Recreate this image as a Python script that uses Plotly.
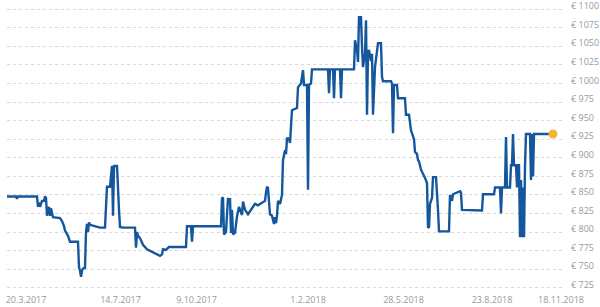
import plotly.graph_objects as go

# Sample index along the chart (data points are irregularly spaced in time)
sample_idx = [
    0, 9, 10, 11, 30, 31, 32, 33, 35, 37, 38, 39, 40, 41, 42, 43, 44, 45, 46, 53,
    55, 57, 58, 61, 63, 71, 72, 73, 74, 75, 76, 78, 79, 80, 81, 82, 83, 85, 89, 93,
    98, 99, 100, 103, 104, 105, 106, 107, 110, 111, 112, 113, 116, 128, 129, 130, 131, 133, 136, 140,
    143, 148, 153, 155, 156, 159, 162, 179, 180, 184, 185, 186, 214, 215, 216, 217, 219, 221, 222, 223,
    224, 225, 226, 228, 230, 232, 234, 235, 236, 238, 241, 245, 248, 251, 255, 258, 259, 260, 261, 263,
    265, 267, 268, 269, 270, 271, 273, 275, 276, 278, 279, 280, 282, 283, 285, 290, 291, 294, 296, 297,
    300, 301, 302, 304, 305, 321, 322, 323, 326, 327, 328, 333, 334, 335, 347, 348, 350, 351, 352, 354,
    355, 356, 358, 359, 360, 361, 362, 364, 365, 366, 368, 370, 371, 374, 375, 376, 384, 385, 386, 387,
    390, 391, 398, 399, 402, 404, 406, 407, 408, 410, 411, 412, 414, 416, 418, 420, 421, 422, 423, 425,
    426, 429, 430, 431, 432, 442, 443, 445, 446, 448, 453, 454, 455, 475, 476, 487, 488, 493, 494, 495,
    498, 499, 500, 503, 504, 505, 506, 507, 509, 510, 511, 512, 513, 514, 515, 516, 517, 518, 519, 523,
    524, 525, 526, 527, 546,
]

# Price in euro
price = [
    848, 848, 845, 848, 848, 834, 840, 834, 842, 842, 848, 846, 822, 830, 834, 822, 832, 826, 820, 819,
    815, 808, 802, 795, 787, 787, 753, 748, 740, 748, 751, 752, 800, 811, 800, 813, 810, 809, 808, 806,
    806, 830, 861, 861, 875, 889, 822, 889, 889, 845, 830, 807, 806, 806, 779, 800, 795, 792, 783, 777,
    775, 772, 768, 770, 777, 776, 780, 780, 808, 808, 787, 808, 808, 845, 847, 797, 800, 846, 838, 846,
    799, 830, 797, 799, 821, 834, 828, 823, 841, 830, 824, 833, 838, 836, 839, 842, 853, 861, 859, 824,
    822, 811, 820, 812, 822, 842, 838, 850, 897, 910, 905, 926, 926, 920, 964, 967, 995, 1000, 1018, 998,
    998, 857, 998, 1000, 1019, 1019, 987, 1019, 1019, 980, 1019, 1019, 980, 1019, 1019, 1058, 1045, 1029, 1089, 1089,
    1049, 1022, 1040, 1085, 958, 1041, 1045, 1030, 1040, 958, 1022, 1050, 1054, 1054, 1009, 1003, 1003, 1000, 933, 998,
    998, 980, 980, 958, 958, 937, 928, 925, 908, 905, 897, 895, 884, 879, 873, 866, 807, 806, 838, 846,
    874, 874, 855, 830, 801, 801, 850, 842, 851, 852, 855, 853, 830, 829, 851, 851, 860, 860, 825, 860,
    860, 928, 860, 860, 890, 890, 932, 890, 890, 860, 890, 890, 793, 870, 793, 860, 793, 888, 932, 932,
    870, 932, 875, 932, 932,
]

tick_idx = [19, 113.5, 189.5, 301, 396.5, 485, 554]
tick_labels = ["20.3.2017", "14.7.2017", "9.10.2017", "1.2.2018", "28.5.2018", "23.8.2018", "18.11.2018"]

y_ticks = [725, 750, 775, 800, 825, 850, 875, 900, 925, 950, 975, 1000, 1025, 1050, 1075, 1100]
y_tick_labels = ["€ " + str(v) for v in y_ticks]

fig = go.Figure()
fig.add_trace(go.Scatter(
    x=sample_idx, y=price, mode="lines",
    line=dict(color="#14579c", width=2.4),
    hoverinfo="skip", showlegend=False,
))
fig.add_trace(go.Scatter(
    x=[sample_idx[-1]], y=[price[-1]], mode="markers",
    marker=dict(color="#f2b632", size=9),
    hoverinfo="skip", showlegend=False,
))

fig.update_layout(
    width=600, height=307,
    margin=dict(l=7, r=37, t=8, b=18, autoexpand=False),
    paper_bgcolor="white", plot_bgcolor="white",
    font=dict(family="Open Sans", size=9, color="#999999"),
    xaxis=dict(
        range=[0, 556], tickmode="array", tickvals=tick_idx, ticktext=tick_labels,
        showgrid=False, zeroline=False, showline=False, ticks="", ticklabelstandoff=4,
        automargin=False, ticklabeloverflow="allow",
    ),
    yaxis=dict(
        side="right", range=[723.5, 1101.5], tickmode="array", tickvals=y_ticks,
        ticktext=y_tick_labels,
        showgrid=True, gridcolor="#d9d9d9", griddash="dot", gridwidth=1,
        zeroline=False, showline=False, ticks="", ticklabelstandoff=7, ticklabelshift=-3,
        automargin=False, ticklabeloverflow="allow",
    ),
)

fig.write_html("out.html")
